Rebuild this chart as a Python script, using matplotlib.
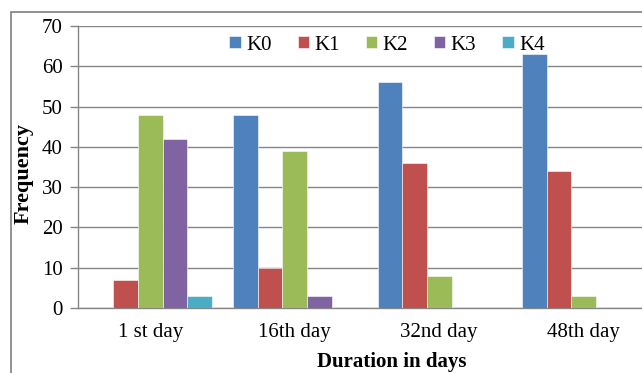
import matplotlib
matplotlib.use("Agg")
import matplotlib.pyplot as plt
from matplotlib.patches import Rectangle
import numpy as np

categories = ["1 st day", "16th day", "32nd day", "48th day"]
series_names = ["K0", "K1", "K2", "K3", "K4"]
k0 = [0, 48, 56, 63]
k1 = [7, 10, 36, 34]
k2 = [48, 39, 8, 3]
k3 = [42, 3, 0, 0]
k4 = [3, 0, 0, 0]
colors = ["#4F81BD", "#C0504D", "#9BBB59", "#8064A2", "#4BACC6"]
y_ticks = [0, 10, 20, 30, 40, 50, 60, 70]

plt.rcParams["font.family"] = ["Liberation Serif", "DejaVu Serif"]

fig = plt.figure(figsize=(6.42, 3.73), dpi=100)
W, H = 642, 373

# outer chart frame (right and bottom edges fall outside the canvas)
fig.patches.append(Rectangle((11 / W, -0.1), 1.2, 1 - 12 / H + 0.1,
                             transform=fig.transFigure, fill=False,
                             edgecolor="#7f7f7f", linewidth=1.2))

ax = fig.add_axes([78 / W, 1 - 308 / H, (656 - 78) / W, (308 - 26) / H])

x = np.arange(len(categories))
width = 0.17
series = [k0, k1, k2, k3, k4]
handles = []
for i, (name, vals, c) in enumerate(zip(series_names, series, colors)):
    bars = ax.bar(x + (i - 2) * width, vals, width, color=c, label=name,
                  edgecolor="white", linewidth=0.4, zorder=3)
    handles.append(bars)

ax.set_xlim(-0.5, 3.5)
ax.set_ylim(0, 70)
ax.set_yticks(y_ticks)
ax.set_xticks(x)
ax.set_xticklabels(categories)
ax.tick_params(axis="y", length=6, color="#868686", width=1, pad=5, labelsize=15)
ax.tick_params(axis="x", length=0, pad=11, labelsize=15)
ax.grid(axis="y", color="#868686", linewidth=1, zorder=0)

for side in ["top", "right"]:
    ax.spines[side].set_visible(False)
ax.spines["left"].set_color("#868686")
ax.spines["bottom"].set_color("#868686")
ax.spines["left"].set_linewidth(1)
ax.spines["bottom"].set_linewidth(1)

fig.text(24 / W, 1 - 174 / H, "Frequency", fontsize=16, fontweight="bold",
         rotation=90, ha="center", va="center")
fig.text(392 / W, 1 - 362 / H, "Duration in days", fontsize=15,
         fontweight="bold", ha="center", va="center")

fig.legend(handles=handles, labels=series_names, loc="center",
           bbox_to_anchor=(387 / W, 1 - 45 / H), ncol=5, frameon=False,
           fontsize=15, handlelength=0.55, handleheight=0.55,
           handletextpad=0.25, columnspacing=1.25)

fig.savefig("out.png", dpi=100)
